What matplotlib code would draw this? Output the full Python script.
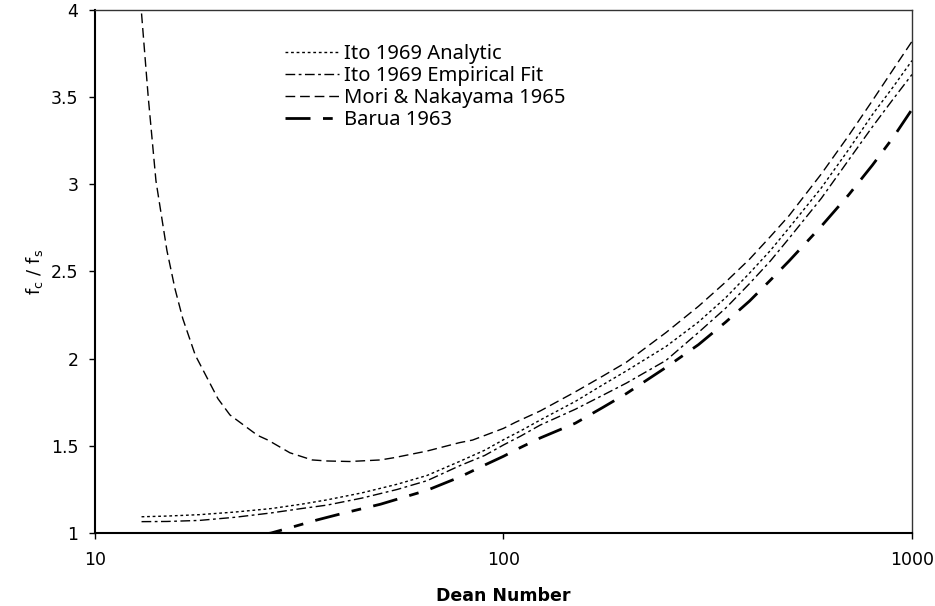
import matplotlib
matplotlib.use("Agg")
import matplotlib.pyplot as plt
from matplotlib.ticker import FixedLocator, FixedFormatter, NullLocator

# values (Dean number vs fc/fs)
de_ito_a = [13, 15, 18, 22, 27, 32, 37, 45, 55, 65, 78, 90, 100, 110, 123, 150, 175, 200, 250, 300, 350,
            400, 450, 500, 600, 700, 800, 900, 1000]
ito_analytic = [1.093, 1.097, 1.105, 1.12, 1.14, 1.165, 1.19, 1.23, 1.28, 1.33, 1.41, 1.475, 1.535, 1.585,
                1.648, 1.755, 1.85, 1.93, 2.07, 2.21, 2.35, 2.49, 2.62, 2.75, 2.98, 3.20, 3.40, 3.56, 3.71]

de_ito_e = [13, 15, 18, 22, 27, 32, 37, 45, 55, 65, 78, 90, 100, 110, 123, 150, 175, 200, 250, 300, 350,
            400, 450, 500, 600, 700, 800, 900, 1000]
ito_empirical = [1.065, 1.066, 1.072, 1.09, 1.115, 1.14, 1.16, 1.20, 1.25, 1.30, 1.385, 1.445, 1.505, 1.555,
                 1.619, 1.71, 1.79, 1.86, 1.99, 2.15, 2.29, 2.43, 2.56, 2.69, 2.92, 3.14, 3.33, 3.49, 3.63]

de_mori = [13, 13.5, 14.1, 15, 15.7, 16.4, 17.6, 20, 21.4, 25, 26.5, 30, 34, 37, 42, 50, 54, 65, 78, 84,
           100, 107, 123, 150, 175, 200, 250, 300, 350, 400, 450, 500, 600, 700, 800, 900, 1000]
mori = [3.98, 3.50, 3.02, 2.62, 2.40, 2.23, 2.02, 1.77, 1.677, 1.56, 1.533, 1.46, 1.419, 1.413, 1.41, 1.419,
        1.432, 1.47, 1.518, 1.533, 1.60, 1.635, 1.70, 1.81, 1.90, 1.98, 2.15, 2.30, 2.44, 2.57, 2.70, 2.82,
        3.06, 3.28, 3.48, 3.66, 3.82]

de_barua = [25, 27, 30, 35, 40, 50, 65, 78, 90, 100, 110, 123, 150, 175, 200, 250, 300, 350, 400, 450, 500,
            600, 700, 800, 900, 1000]
barua = [0.985, 1.0, 1.03, 1.075, 1.11, 1.165, 1.245, 1.32, 1.39, 1.44, 1.49, 1.545, 1.63, 1.72, 1.80, 1.95,
         2.08, 2.21, 2.33, 2.45, 2.56, 2.76, 2.94, 3.11, 3.27, 3.43]

x_ticks = [10, 100, 1000]
y_ticks = [1, 1.5, 2, 2.5, 3, 3.5, 4]
y_tick_labels = ['1', '1.5', '2', '2.5', '3', '3.5', '4']

fig = plt.figure(figsize=(9.35, 6.06), dpi=100)
ax = fig.add_axes([0.1016, 0.1205, 0.8738, 0.863])

ax.plot(de_ito_a, ito_analytic, color='black', lw=1.0, dashes=(2, 2), label='Ito 1969 Analytic')
ax.plot(de_ito_e, ito_empirical, color='black', lw=1.0, dashes=(7, 2.5, 2, 2.5), label='Ito 1969 Empirical Fit')
ax.plot(de_mori, mori, color='black', lw=1.0, dashes=(7, 3.5), label='Mori & Nakayama 1965')
ax.plot(de_barua, barua, color='black', lw=2.0, dashes=(9, 4.5, 3.5, 4.5), label='Barua 1963')

ax.set_xscale('log')
ax.set_xlim(10, 1000)
ax.set_ylim(1, 4)
ax.xaxis.set_major_locator(FixedLocator(x_ticks))
ax.xaxis.set_major_formatter(FixedFormatter([str(v) for v in x_ticks]))
ax.xaxis.set_minor_locator(NullLocator())
ax.yaxis.set_major_locator(FixedLocator(y_ticks))
ax.yaxis.set_major_formatter(FixedFormatter(y_tick_labels))

ax.tick_params(axis='both', direction='out', length=4, width=1, labelsize=12.5, colors='black')
ax.tick_params(axis='y', pad=8)
ax.tick_params(axis='x', pad=9)

for side in ['left', 'bottom']:
    ax.spines[side].set_linewidth(1.5)
for side in ['top', 'right']:
    ax.spines[side].set_linewidth(1.0)
    ax.spines[side].set_color('#333333')

ax.set_xlabel('Dean Number', fontsize=12.5, fontweight='bold', labelpad=13)
ax.set_ylabel(r'$\mathregular{f_c\,\,/\,\,f_s}$', fontsize=13, labelpad=4)

leg = ax.legend(loc='upper left', bbox_to_anchor=(0.2326, 0.9355), frameon=False,
                prop={'family': 'Noto Sans', 'size': 14.5}, handlelength=2.7,
                handletextpad=0.25, labelspacing=0.11, borderpad=0, borderaxespad=0)

fig.savefig('out.png', dpi=100)
